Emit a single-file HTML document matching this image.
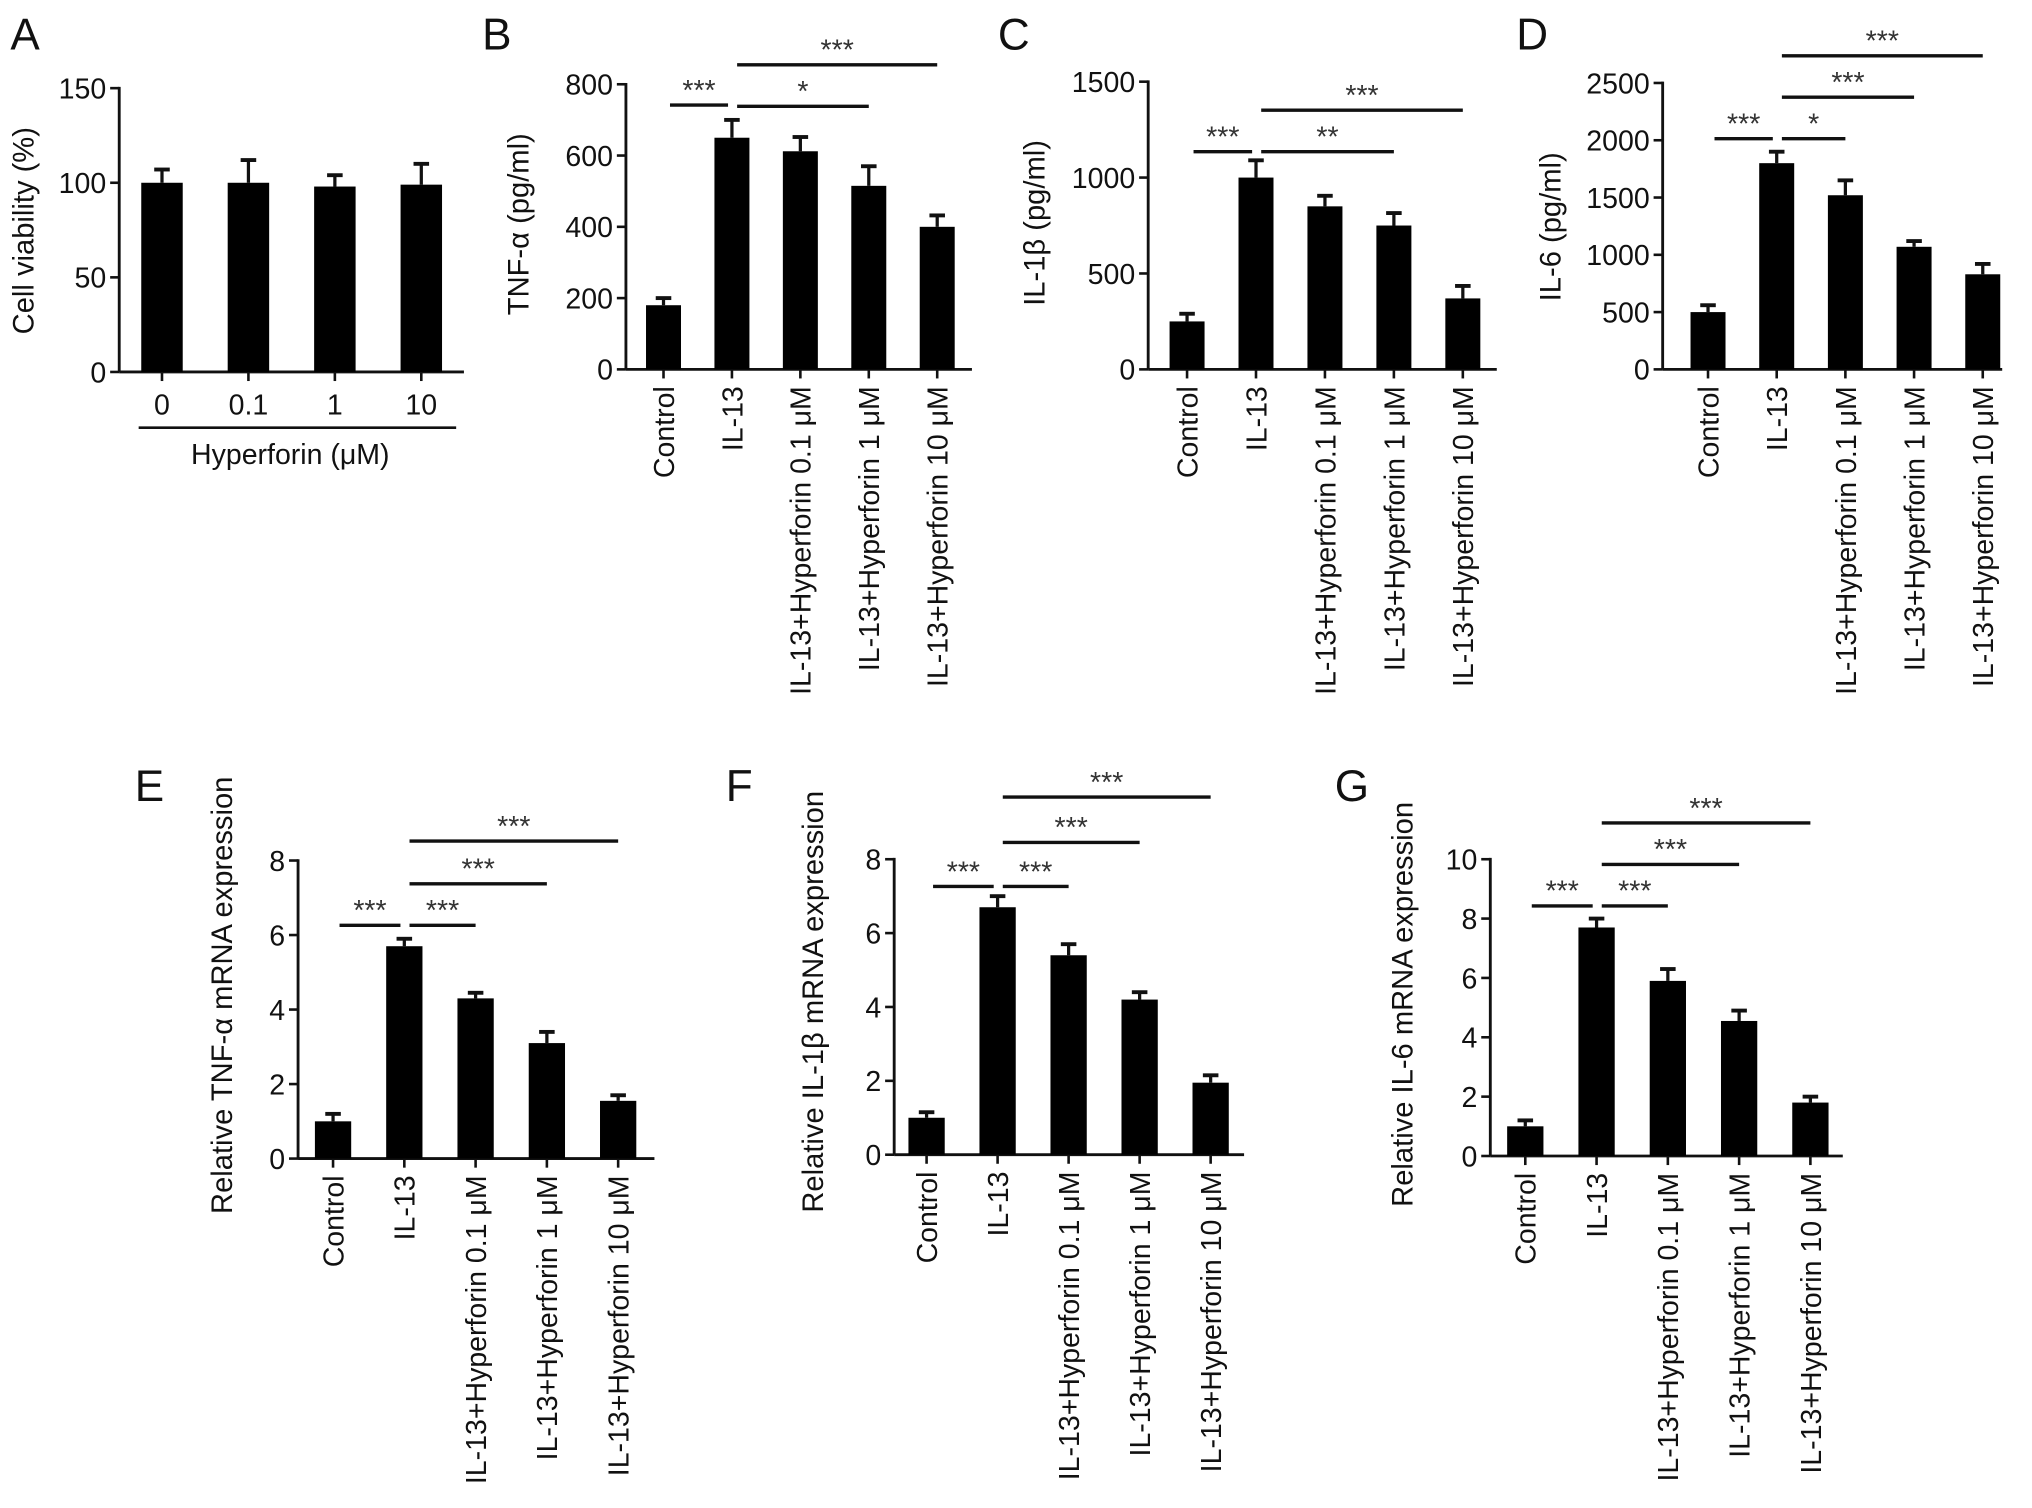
<!DOCTYPE html>
<html><head><meta charset="utf-8"><style>
html,body{margin:0;padding:0;background:#fff;}
svg{display:block;}
text{font-family:"Liberation Sans",Arial,sans-serif;fill:#111;}
.tick{font-family:"Liberation Sans Narrow","Liberation Sans",sans-serif;font-size:22px;}
.cat{font-size:22px;}
.ttl{font-size:22.5px;}
.lbl{font-size:34px;}
.sig{font-size:22px;fill:#333;}
</style></head><body>
<svg id="fig" width="2032" height="1508" viewBox="0 0 1568 1163.6" xmlns="http://www.w3.org/2000/svg"></svg>
<script>
const catsA = ["0","0.1","1","10"];
const valsA = [100,100,98,99];
const errA = [7,12,6,11];
const ticksA = [0,50,100,150];
const cats5 = ["Control","IL-13","IL-13+Hyperforin 0.1  μM","IL-13+Hyperforin 1  μM","IL-13+Hyperforin 10  μM"];
const valsB = [180,650,612,515,400];
const errB = [20,50,40,55,32];
const ticksB = [0,200,400,600,800];
const valsC = [250,1000,850,750,370];
const errC = [40,90,55,65,65];
const ticksC = [0,500,1000,1500];
const valsD = [500,1800,1520,1070,830];
const errD = [60,100,130,50,90];
const ticksD = [0,500,1000,1500,2000,2500];
const valsE = [1.0,5.7,4.3,3.1,1.55];
const errE = [0.2,0.2,0.15,0.3,0.15];
const ticksE = [0,2,4,6,8];
const valsF = [1.0,6.7,5.4,4.2,1.95];
const errF = [0.15,0.3,0.3,0.2,0.2];
const ticksF = [0,2,4,6,8];
const valsG = [1.0,7.7,5.9,4.55,1.8];
const errG = [0.2,0.3,0.4,0.35,0.2];
const ticksG = [0,2,4,6,8,10];
const sigB = [[0,1,"***"],[1,3,"*"],[1,4,"***"]];
const sigC = [[0,1,"***"],[1,3,"**"],[1,4,"***"]];
const sigD = [[0,1,"***"],[1,2,"*"],[1,3,"***"],[1,4,"***"]];
const sig3 = [[0,1,"***"],[1,2,"***"],[1,3,"***"],[1,4,"***"]];

const NS="http://www.w3.org/2000/svg";
const svg=document.getElementById('fig');
function mk(tag,attrs,parent){const e=document.createElementNS(NS,tag);for(const k in attrs)e.setAttribute(k,attrs[k]);(parent||svg).appendChild(e);return e;}

function panel(p){
  const g=mk('g',{});
  
  
  const ymax=p.ticks[p.ticks.length-1];
  const Y=v=>p.y0-(v/ymax)*(p.y0-p.ytop);
  const X=i=>p.x1+i*p.step;
  const L=mk('text',{x:p.lx,y:p.ly,class:'lbl'},g);L.textContent=p.id;
  
  
  const ax=mk('line',{x1:p.ax,y1:p.ytop-1,x2:p.ax,y2:p.y0,stroke:'#111','stroke-width':2.2},g);
  
  
  const xa=mk('line',{x1:p.ax,y1:p.y0,x2:p.xend,y2:p.y0,stroke:'#111','stroke-width':2.2},g);
  
  
  p.ticks.forEach(t=>{
    mk('line',{x1:p.ax-7,y1:Y(t),x2:p.ax,y2:Y(t),stroke:'#111','stroke-width':2},g);
    const tt=mk('text',{x:p.ax-10,y:Y(t)+8,'text-anchor':'end',class:'tick'},g);tt.textContent=t;
    
    
  });
  const yt=mk('text',{x:0,y:0,'text-anchor':'middle',class:'ttl',transform:`translate(${p.tx},${p.tcy}) rotate(-90)`},g);
  yt.textContent=p.title;
  
  
  p.vals.forEach((v,i)=>{
    const cx=X(i), e=p.err[i];
    mk('line',{x1:cx,y1:Y(v),x2:cx,y2:Y(v+e),stroke:'#111','stroke-width':2.5},g);
    mk('line',{x1:cx-6,y1:Y(v+e),x2:cx+6,y2:Y(v+e),stroke:'#111','stroke-width':3},g);
    const b=mk('rect',{x:cx-p.bw/2,y:Y(v),width:p.bw,height:p.y0-Y(v),fill:'#000'},g);
    
    
    mk('line',{x1:cx,y1:p.y0,x2:cx,y2:p.y0+7,stroke:'#111','stroke-width':2},g);
    let c;
    if(p.rot){
      c=mk('text',{x:0,y:0,'text-anchor':'end',class:'cat',transform:`translate(${cx+8},${p.y0+13}) rotate(-90)`},g);
    } else {
      c=mk('text',{x:cx,y:p.y0+33,'text-anchor':'middle',class:'tick'},g);
    }
    c.textContent=p.cats[i];
    
    
  });
  (p.sig||[]).forEach((s,k)=>{
    const a=X(s[0])+(s[0]===0?5:4), bb=X(s[1])-(s[0]===0?3:0);
    const y=p.sigY[k];
    const ln=mk('line',{x1:a,y1:y,x2:bb,y2:y,stroke:'#111','stroke-width':2.6},g);
    
    
    const st=mk('text',{x:(a+bb)/2,y:y-4,'text-anchor':'middle',class:'sig'},g);
    st.textContent=s[2];
    
    
  });
  return {g,X,Y};
}

const A=panel({id:'A',lx:8,ly:38,ax:92,y0:287,ytop:68,x1:125,step:66.7,bw:32,xend:358,ticks:ticksA,vals:valsA,err:errA,cats:catsA,rot:false,title:'Cell viability (%)',tx:26,tcy:178});
const hl=mk('line',{x1:107,y1:330,x2:352,y2:330,stroke:'#111','stroke-width':2},A.g);


const ht=mk('text',{x:224,y:358,'text-anchor':'middle',class:'tick'},A.g);
ht.textContent='Hyperforin (μM)';



panel({id:'B',lx:372,ly:38,ax:483,y0:285,ytop:65,x1:512,step:52.8,bw:27,xend:750,ticks:ticksB,vals:valsB,err:errB,cats:cats5,rot:true,title:'TNF-α (pg/ml)',tx:408,tcy:173,sig:sigB,sigY:[81,82,50]});
panel({id:'C',lx:770,ly:38,ax:886,y0:285,ytop:63,x1:916,step:53.2,bw:27,xend:1155,ticks:ticksC,vals:valsC,err:errC,cats:cats5,rot:true,title:'IL-1β (pg/ml)',tx:806,tcy:172,sig:sigC,sigY:[117,117,85]});
panel({id:'D',lx:1170,ly:38,ax:1283,y0:285,ytop:64,x1:1318,step:53,bw:27,xend:1545,ticks:ticksD,vals:valsD,err:errD,cats:cats5,rot:true,title:'IL-6 (pg/ml)',tx:1204,tcy:175,sig:sigD,sigY:[107,107,75,43]});
panel({id:'E',lx:104,ly:618,ax:230,y0:894,ytop:664,x1:257,step:55,bw:28,xend:505,ticks:ticksE,vals:valsE,err:errE,cats:cats5,rot:true,title:'Relative TNF-α mRNA expression',tx:179,tcy:768,sig:sig3,sigY:[714,714,682,649]});
panel({id:'F',lx:560,ly:618,ax:690,y0:891,ytop:663,x1:715,step:54.8,bw:28,xend:960,ticks:ticksF,vals:valsF,err:errF,cats:cats5,rot:true,title:'Relative IL-1β mRNA expression',tx:635,tcy:773,sig:sig3,sigY:[684,684,650,615]});
panel({id:'G',lx:1030,ly:618,ax:1150,y0:892,ytop:663,x1:1177,step:55,bw:28,xend:1422,ticks:ticksG,vals:valsG,err:errG,cats:cats5,rot:true,title:'Relative IL-6 mRNA expression',tx:1090,tcy:775,sig:sig3,sigY:[699,699,667,635]});
</script>
</body></html>
